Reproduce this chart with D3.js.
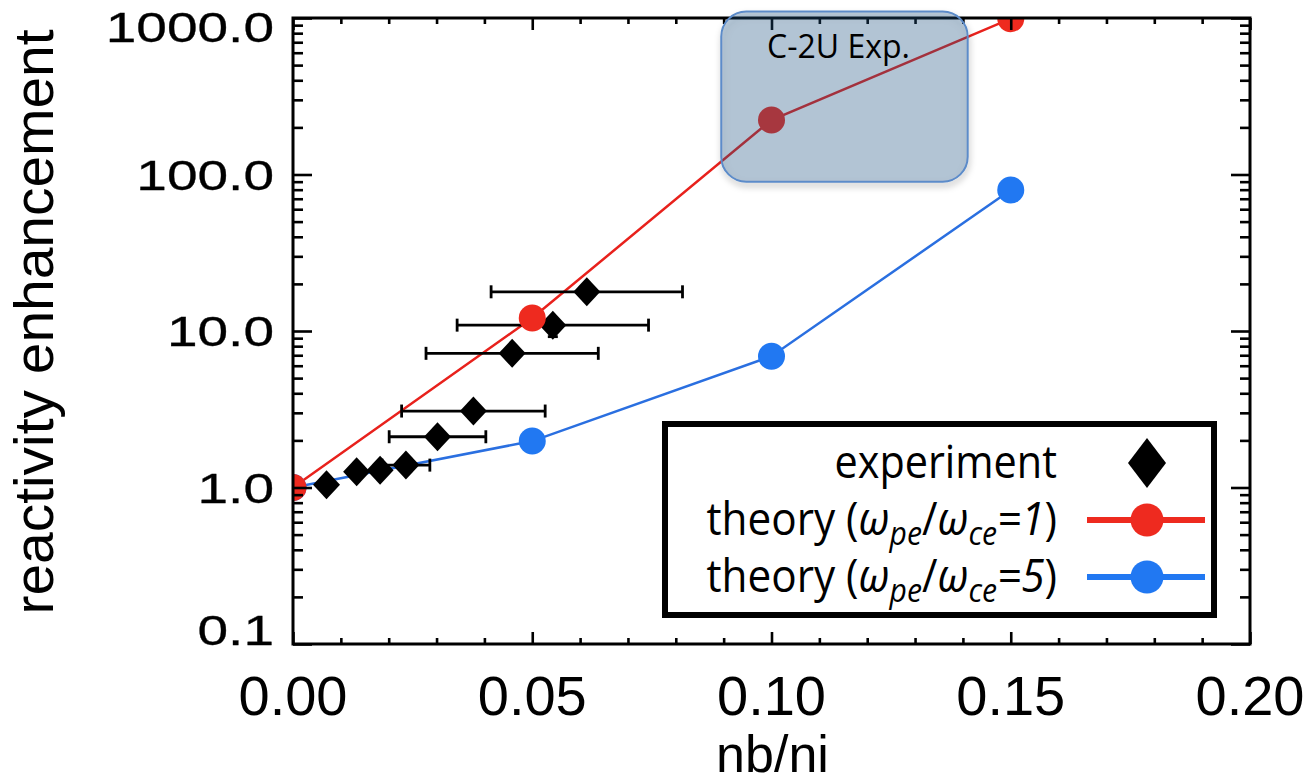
<!DOCTYPE html>
<html>
<head>
<meta charset="utf-8">
<script src="https://cdn.jsdelivr.net/npm/d3@7"></script>
<style>
  body { margin: 0; background: #fff; }
  svg { display: block; }
</style>
</head>
<body>
<div id="wrapper"></div>
<script>
// axis ticks and labels
const xTicksMajor = [0, 0.05, 0.10, 0.15, 0.20];
const xTickLabels = ["0.00", "0.05", "0.10", "0.15", "0.20"];
const yTicksMajor = [0.1, 1, 10, 100, 1000];
const yTickLabels = ["0.1", "1.0", "10.0", "100.0", "1000.0"];

// theory curves
const theoryX = [0, 0.05, 0.10, 0.15];
const theory1 = [1, 12.1, 223, 990];   // wpe/wce = 1
const theory5 = [1, 1.98, 6.9, 79.6];  // wpe/wce = 5

// experiment points
const expX    = [0.0070, 0.0133, 0.0182, 0.0236, 0.0302, 0.0377, 0.0458, 0.0543, 0.0614];
const expY    = [1.04, 1.26, 1.29, 1.39, 2.11, 3.08, 7.2, 10.9, 17.8];
const expXErr = [0, 0, 0, 0.005, 0.0101, 0.015, 0.018, 0.020, 0.020];
const expYLow = [null, null, null, null, null, null, null, 9.2, null];

// C-2U experiment region
const c2uX = [0.0895, 0.141];
const c2uY = [90, 1100];

const red = "#ee2a1f", redLine = "#e8211c";
const blue = "#2178f2", blueLine = "#2a6fe0";

function drawChart() {
    let dimensions = {
        width: 1306,
        height: 783,
        margin: { top: 18, right: 56, bottom: 139, left: 293 },
    };
    dimensions.boundedWidth = dimensions.width - dimensions.margin.left - dimensions.margin.right;
    dimensions.boundedHeight = dimensions.height - dimensions.margin.top - dimensions.margin.bottom;

    const svg = d3.select("#wrapper").append("svg")
        .attr("width", dimensions.width)
        .attr("height", dimensions.height);

    const defs = svg.append("defs");
    defs.append("clipPath").attr("id", "plotclip")
        .append("rect")
        .attr("width", dimensions.boundedWidth)
        .attr("height", dimensions.boundedHeight);
    const shadow = defs.append("filter").attr("id", "shadow")
        .attr("x", "-10%").attr("y", "-10%").attr("width", "130%").attr("height", "130%");
    shadow.append("feDropShadow")
        .attr("dx", 1).attr("dy", 4).attr("stdDeviation", 3)
        .attr("flood-color", "#000").attr("flood-opacity", 0.3);

    const bounds = svg.append("g")
        .attr("transform", `translate(${dimensions.margin.left},${dimensions.margin.top})`);

    const xScale = d3.scaleLinear()
        .domain([0, 0.2])
        .range([0, dimensions.boundedWidth]);
    const yScale = d3.scaleLog()
        .domain([0.1, 1000])
        .range([dimensions.boundedHeight, 0]);

    // data layer (clipped to the frame)
    const plot = bounds.append("g").attr("clip-path", "url(#plotclip)");

    const lineGenerator = (ys) => d3.line()
        .x((d, i) => xScale(theoryX[i]))
        .y(d => yScale(d))(ys);

    plot.append("path").attr("d", lineGenerator(theory1))
        .attr("fill", "none").attr("stroke", redLine).attr("stroke-width", 2.5);
    plot.append("path").attr("d", lineGenerator(theory5))
        .attr("fill", "none").attr("stroke", blueLine).attr("stroke-width", 2.5);

    // error bars
    const cap = 6.5;
    const err = plot.append("g").attr("stroke", "#000").attr("stroke-width", 2.8);
    expX.forEach((x, i) => {
        const cy = yScale(expY[i]);
        if (expXErr[i] > 0) {
            const x0 = xScale(x - expXErr[i]), x1 = xScale(x + expXErr[i]);
            err.append("line").attr("x1", x0).attr("x2", x1).attr("y1", cy).attr("y2", cy);
            err.append("line").attr("x1", x0).attr("x2", x0).attr("y1", cy - cap).attr("y2", cy + cap);
            err.append("line").attr("x1", x1).attr("x2", x1).attr("y1", cy - cap).attr("y2", cy + cap);
        }
        if (expYLow[i] != null) {
            const cx = xScale(x), y0 = yScale(expYLow[i]);
            err.append("line").attr("x1", cx).attr("x2", cx).attr("y1", cy).attr("y2", y0);
            err.append("line").attr("x1", cx - 5).attr("x2", cx + 5).attr("y1", y0).attr("y2", y0);
        }
    });

    const diamond = (w, h) => `M0,${-h}L${w},0L0,${h}L${-w},0Z`;
    plot.append("g").selectAll("path")
        .data(expX)
        .join("path")
        .attr("d", diamond(13.5, 14.5))
        .attr("transform", (d, i) => `translate(${xScale(d)},${yScale(expY[i])})`)
        .attr("fill", "#000");

    plot.append("g").selectAll("circle")
        .data(theory5)
        .join("circle")
        .attr("cx", (d, i) => xScale(theoryX[i]))
        .attr("cy", d => yScale(d))
        .attr("r", 13.5)
        .attr("fill", blue);
    plot.append("g").selectAll("circle")
        .data(theory1)
        .join("circle")
        .attr("cx", (d, i) => xScale(theoryX[i]))
        .attr("cy", d => yScale(d))
        .attr("r", 13.5)
        .attr("fill", red);

    // frame + ticks
    bounds.append("rect")
        .attr("width", dimensions.boundedWidth)
        .attr("height", dimensions.boundedHeight)
        .attr("fill", "none").attr("stroke", "#000").attr("stroke-width", 3);

    const xMinor = d3.range(0, 0.2001, 0.01).filter(v => !xTicksMajor.some(m => Math.abs(m - v) < 1e-9));
    const yMinor = yScale.ticks().filter(v => !yTicksMajor.includes(v));

    const axes = [
        [d3.axisBottom(xScale).tickValues(xTicksMajor).tickSize(-12), `translate(0,${dimensions.boundedHeight})`],
        [d3.axisBottom(xScale).tickValues(xMinor).tickSize(-6), `translate(0,${dimensions.boundedHeight})`],
        [d3.axisTop(xScale).tickValues(xTicksMajor).tickSize(-12), null],
        [d3.axisTop(xScale).tickValues(xMinor).tickSize(-6), null],
        [d3.axisLeft(yScale).tickValues(yTicksMajor).tickSize(-19), null],
        [d3.axisLeft(yScale).tickValues(yMinor).tickSize(-10), null],
        [d3.axisRight(yScale).tickValues(yTicksMajor).tickSize(-19), `translate(${dimensions.boundedWidth},0)`],
        [d3.axisRight(yScale).tickValues(yMinor).tickSize(-10), `translate(${dimensions.boundedWidth},0)`],
    ];
    axes.forEach(([gen, tr]) => {
        const g = bounds.append("g").call(gen.tickFormat(""));
        if (tr) g.attr("transform", tr);
        g.select(".domain").remove();
        g.selectAll(".tick line").attr("stroke", "#000").attr("stroke-width", 2.6);
    });

    // tick labels
    bounds.append("g").selectAll("text")
        .data(xTicksMajor)
        .join("text")
        .attr("x", d => xScale(d))
        .attr("y", dimensions.boundedHeight + 71)
        .attr("text-anchor", "middle")
        .attr("font-family", "'Liberation Sans', Arial, sans-serif")
        .attr("font-size", 56)
        .attr("fill", "#000")
        .text((d, i) => xTickLabels[i]);

    bounds.append("g").selectAll("g")
        .data(yTicksMajor)
        .join("g")
        .attr("transform", d => {
            const cy = Math.max(9, Math.min(dimensions.boundedHeight - 14, yScale(d)));
            return `translate(-19,${cy}) scale(1.28,1)`;
        })
        .append("text")
        .attr("text-anchor", "end")
        .attr("dy", "0.36em")
        .attr("font-family", "'Liberation Sans', Arial, sans-serif")
        .attr("font-size", 43)
        .attr("stroke", "#000").attr("stroke-width", 0.3)
        .attr("fill", "#000")
        .text((d, i) => yTickLabels[i]);

    // axis titles
    svg.append("text")
        .attr("x", dimensions.margin.left + dimensions.boundedWidth * 0.5 + 1)
        .attr("y", 772)
        .attr("text-anchor", "middle")
        .attr("font-family", "'Liberation Sans', Arial, sans-serif")
        .attr("font-size", 52)
        .text("nb/ni");

    svg.append("text")
        .attr("transform", `translate(53,322) rotate(-90)`)
        .attr("text-anchor", "middle")
        .attr("font-family", "'Liberation Sans', Arial, sans-serif")
        .attr("font-size", 55)
        .attr("textLength", 585)
        .attr("lengthAdjust", "spacingAndGlyphs")
        .text("reactivity enhancement");

    // C-2U region
    const bx0 = xScale(c2uX[0]), bx1 = xScale(c2uX[1]);
    const by0 = yScale(c2uY[1]), by1 = yScale(c2uY[0]);
    bounds.append("rect")
        .attr("x", bx0).attr("y", by0)
        .attr("width", bx1 - bx0).attr("height", by1 - by0)
        .attr("rx", 25).attr("ry", 25)
        .attr("fill", "rgb(41,87,137)").attr("fill-opacity", 0.28)
        .attr("stroke", "#5b8bc9").attr("stroke-width", 2)
        .attr("filter", "url(#shadow)");
    bounds.append("text")
        .attr("x", (bx0 + bx1) / 2 - 6)
        .attr("y", by0 + 46)
        .attr("text-anchor", "middle")
        .attr("font-family", "'Open Sans', sans-serif")
        .attr("font-size", 32)
        .attr("fill", "#000")
        .text("C-2U Exp.");

    // legend
    const legend = svg.append("g");
    legend.append("rect")
        .attr("x", 665).attr("y", 424)
        .attr("width", 549).attr("height", 191)
        .attr("fill", "#fff").attr("stroke", "#000").attr("stroke-width", 6);

    const textX = 1057, symX = 1147;
    const rows = [463, 520, 577];
    const fam = "'Open Sans', sans-serif";
    const fs = 45;

    legend.append("g")
        .attr("transform", `translate(${textX},${rows[0] + 15}) scale(0.92,1)`)
        .append("text")
        .attr("text-anchor", "end")
        .attr("font-family", fam).attr("font-size", fs)
        .text("experiment");
    legend.append("path")
        .attr("d", diamond(19, 25))
        .attr("transform", `translate(${symX},${rows[0]})`)
        .attr("fill", "#000");

    const theoryEntry = (cy, num, lineColor, dotColor) => {
        const t = legend.append("g")
            .attr("transform", `translate(${textX},${cy + 15}) scale(0.94,1)`)
            .append("text")
            .attr("text-anchor", "end")
            .attr("font-family", fam).attr("font-size", fs);
        t.append("tspan").text("theory (");
        t.append("tspan").attr("font-style", "italic").text("ω");
        t.append("tspan").attr("font-style", "italic").attr("font-size", 32).attr("dy", 10).text("pe");
        t.append("tspan").attr("dy", -10).text("/");
        t.append("tspan").attr("font-style", "italic").text("ω");
        t.append("tspan").attr("font-style", "italic").attr("font-size", 32).attr("dy", 10).text("ce");
        t.append("tspan").attr("font-style", "italic").attr("dy", -10).text("=" + num);
        t.append("tspan").text(")");
        legend.append("line")
            .attr("x1", 1087).attr("x2", 1205).attr("y1", cy).attr("y2", cy)
            .attr("stroke", lineColor).attr("stroke-width", 6);
        legend.append("circle")
            .attr("cx", symX).attr("cy", cy).attr("r", 16.5)
            .attr("fill", dotColor);
    };
    theoryEntry(rows[1], "1", red, red);
    theoryEntry(rows[2], "5", blue, blue);
}

drawChart();
</script>
</body>
</html>
